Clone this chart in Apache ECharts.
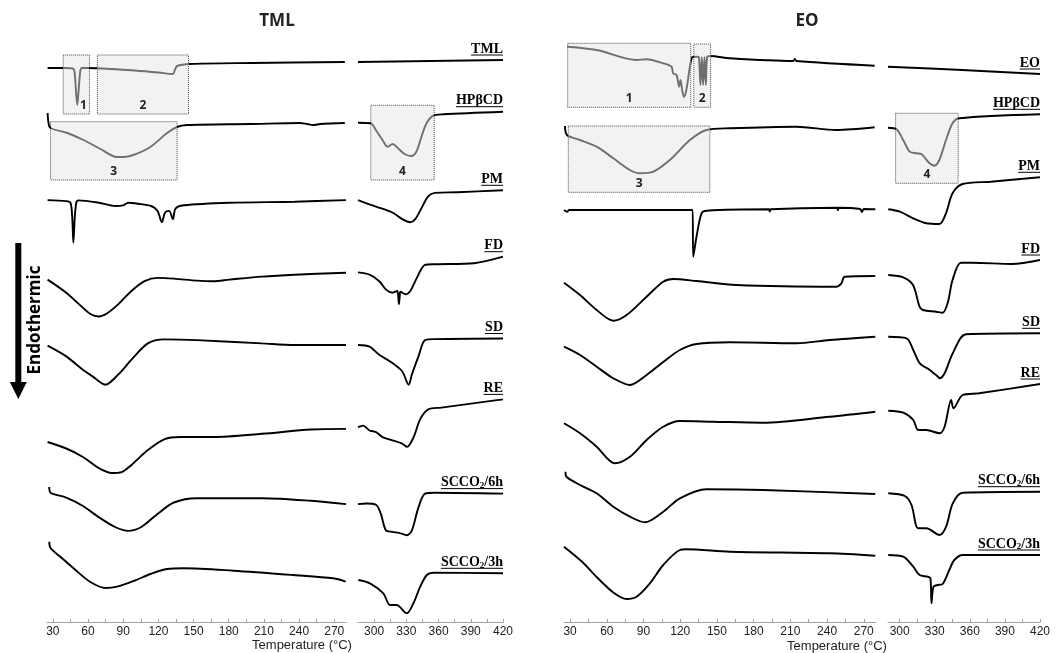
<!DOCTYPE html>
<html><head><meta charset="utf-8">
<script src="https://cdn.jsdelivr.net/npm/echarts@6/dist/echarts.min.js"></script>
<style>html,body{margin:0;padding:0;background:#fff}#c{width:1064px;height:653px}</style>
</head><body><div id="c"></div>
<script>
// ---------- tick labels ----------
const TICKS_LOW = [30, 60, 90, 120, 150, 180, 210, 240, 270];
const TICKS_HIGH = [300, 330, 360, 390, 420];
const MINOR_LOW = [30, 45, 60, 75, 90, 105, 120, 135, 150, 165, 180, 195, 210, 225, 240, 255, 270];
const MINOR_HIGH = [300, 315, 330, 345, 360, 375, 390, 405, 420];

// ---------- sample names ----------
const TML_NAMES = ['TML', 'HPβCD', 'PM', 'FD', 'SD', 'RE', 'SCCO2/6h', 'SCCO2/3h'];
const EO_NAMES = ['EO', 'HPβCD', 'PM', 'FD', 'SD', 'RE', 'SCCO2/6h', 'SCCO2/3h'];

// ---------- TML panel: [temperature °C, stacked heat flow (arb. units)] ----------
const L_TML_A = [[25.5,554],[40,554],[47,553.5],[48.5,550],[49.5,535],[50.8,517],[52,532],[53.5,552],[55,554],[60,554],[80,553],[100,551.5],[120,549.5],[132.5,548],[134,552],[136,556],[147,558],[200,559],[279,560]];
const L_TML_B = [[285,560],[420,562]];
const L_HP_A = [[25.5,509],[26.3,499],[28,494],[42.3,489],[56.1,482],[70.6,473],[84.8,465],[90.2,465],[98.7,467],[113.1,475],[127.4,489],[135.9,495],[144.4,497],[198,498],[240.8,499],[246.8,498],[251.9,497],[258,498],[279,499]];
const L_HP_B = [[285,499.3],[296.9,498.7],[301.6,492],[307.8,482],[312.5,475.3],[317.3,478],[322,474],[328.3,468],[334.6,466],[339.3,470.3],[344.1,485.3],[348.8,498.7],[355,506.3],[364.4,507.7],[420,510.3]];
const L_PM_A = [[25.5,421.9],[41.4,420.9],[45,419.3],[46.5,405],[47.5,379.4],[48.7,405],[50,419.3],[51.7,421.6],[69.2,419.3],[83.1,416],[90.1,416.7],[94.3,419.3],[102.6,418.3],[113.8,416],[119.3,411.1],[122.9,399.7],[125.7,409.5],[129.1,411.1],[132.4,402.9],[134.6,413.4],[141.6,416.7],[180.6,419.3],[236.2,420.3],[280,421.9]];
const L_PM_B = [[285,421.9],[291.1,419.3],[301.7,415.4],[317,409.5],[326.1,402.9],[333.7,399.7],[338.3,402.9],[344.4,414.4],[350.5,425.8],[356.6,429.1],[377.9,429.8],[420,431.7]];
const L_FD_A = [[25.5,342.4],[41.4,329.3],[55.3,314.6],[62,308],[69,305.5],[76,308.5],[85.9,317.9],[97,331],[108.2,340.8],[119.3,344.1],[133.2,343.4],[152.7,341.4],[166.7,340.8],[180.6,342.4],[208.4,345.4],[236.2,347.3],[280,349.3]];
const L_FD_B = [[285,349.6],[295.7,347.3],[304.8,340.8],[310.9,332.6],[317,329.3],[321.5,331],[322.5,325],[323.1,317.9],[323.8,325],[324.6,330.3],[329.2,327.7],[333.7,331],[339.8,344.1],[347.4,357.1],[356.6,357.8],[393.1,358.8],[420,365.3]];
const L_SD_A = [[25.5,276.3],[41.4,265.6],[55.3,252.5],[63.6,245.9],[74.8,237.3],[85.9,247.6],[97,262.3],[111,278.6],[124.9,282.6],[152.7,281.9],[208.4,278.6],[236.2,277],[280,277]];
const L_SD_B = [[285,277],[295.7,275.4],[304.8,267.2],[317,259],[326.1,250.8],[332.2,237.3],[335.2,247.6],[341.3,265.6],[347.4,281.9],[356.6,282.9],[420,283.5]];
const L_RE_A = [[25.5,180],[41.4,173.5],[55.3,165.3],[69.2,153.9],[80.3,149],[88.7,149.9],[97,157.1],[111,171.9],[124.9,182.7],[138.8,185],[166.7,185],[208.4,188.2],[250.2,192.5],[280,193.1]];
const L_RE_B = [[285,194.8],[289.6,196.4],[295.7,191.5],[301.7,189.9],[307.8,184.9],[317,181.7],[326.1,178.4],[330.7,175.1],[336.8,184.9],[342.9,202.9],[350.5,212.7],[362.6,214.4],[414.4,221.9],[420,222.6]];
const L_S6_A = [[26.9,134.9],[28,129.3],[41.4,124.4],[55.3,116.3],[69.2,104.8],[83.1,95],[94.3,91.1],[105.4,95],[119.3,108.1],[133.2,119.5],[152.7,123.8],[208.4,123.8],[250.2,121.2],[280,117.9]];
const L_S6_B = [[285,117.9],[292.6,118.5],[301.7,117.2],[306.3,108.1],[310.9,91.7],[317,90.1],[323.1,89.1],[330.7,86.8],[335.2,91.7],[341.3,114.6],[347.4,128.4],[356.6,129.3],[420,128.4]];
const L_S3_A = [[26.9,80.3],[28,74],[36.6,65],[49.3,52],[62,40],[74.9,34],[84.8,35.3],[99,41],[113.2,48],[127.4,53],[141.5,53.7],[184,51.3],[235.1,47],[269.2,43.7],[279.7,40.3]];
const L_S3_B = [[285.3,42],[296.1,38.7],[308.6,28.7],[314.8,17],[321,17],[330.4,8.7],[336.6,18.7],[342.9,35.3],[349.1,47],[355.3,49.3],[420,48.7]];

// ---------- EO panel ----------
const R_EO_A = [[28,575.3],[51.7,572],[84.3,562],[92.5,562.7],[106.1,558.7],[112.9,555.3],[114.2,548.7],[117,547],[119.1,535.3],[120.2,542],[121.8,530.3],[123.1,525.3],[125,532],[127.9,555.3],[129.8,564.7],[133.3,565.3],[135.1,565],[136.5,537],[137.6,565],[138.7,537],[139.8,565],[140.9,537],[142,565],[144.7,566],[160.5,563.7],[212.2,561],[213.6,563],[215,561],[278.9,556.3]];
const R_EO_B = [[290,555.3],[353.5,552],[420,548]];
const R_HP_A = [[25.8,496],[27.4,487],[38,482],[51.7,475.3],[65.3,463.7],[78.9,452],[87,448.7],[97.9,450.3],[111.5,462],[127.9,482],[141.5,492],[160.5,493.7],[214.9,495.3],[247.5,492],[278.9,494.7]];
const R_HP_B = [[290,494.3],[297.3,492.7],[303,482],[308.6,470.3],[314.3,468.7],[318.5,468],[325.5,458.7],[329.7,456.3],[333.9,462],[339.6,482],[345.2,498.7],[350.9,503.7],[420,507.7]];
const R_PM_A = [[25,412],[27.7,410.3],[29.1,412],[78.9,412],[130.1,412],[130.6,365.3],[133.3,385.3],[137.4,408.7],[141.5,411.3],[192.5,412.7],[193.2,410.5],[194,412.7],[248.2,414.3],[248.9,412],[249.6,414.3],[267,413],[268.5,410],[270,413],[279.4,412.7]];
const R_PM_B = [[290.2,412.7],[300,410.3],[311.4,403.7],[322.7,398.7],[334,398],[339.6,408.7],[345.2,428.7],[353.7,438],[378,440.3],[420,444.7]];
const R_FD_A = [[25,339.3],[38.1,327],[51.7,312],[65.3,301.3],[76.2,307],[92.5,325.3],[106.1,340.3],[114.3,343],[133.3,341],[166,337],[247.6,335.3],[251.7,338.7],[254.4,345.3],[279.4,346]];
const R_FD_B = [[290.2,347],[303,344.7],[311.4,337],[317,315.3],[319.8,312],[331.1,310.3],[336.7,309.3],[341,318.7],[345.2,342],[352.3,359.3],[362.2,359.3],[396,358],[420,362]];
const R_SD_A = [[25,275.3],[38.1,267],[51.7,255.3],[65.3,243.7],[78.9,237],[92.5,247],[106.1,260],[119.7,272],[133.3,278],[160.5,279.7],[214.9,278.7],[242.1,282],[279.4,285.3]];
const R_SD_B = [[290.2,285.3],[305.9,283.7],[311.6,272],[317.2,258.7],[325.7,252],[332.8,245.3],[334.2,243.7],[338.4,248.7],[345.4,268.7],[356.7,287.7],[420,288.7]];
const R_RE_A = [[25,198.7],[38.1,188.7],[51.7,175.3],[66.6,158.7],[78.9,165.3],[92.5,182],[106.1,195.3],[119.7,201],[146.9,200.3],[187.7,199.3],[242.1,205.3],[279.4,210.3]];
const R_RE_B = [[290.2,211.3],[303,209.3],[311.6,202],[315.8,192],[322.8,192],[334.1,188.7],[338.4,195.3],[344,222],[346,213.7],[353.9,227],[368,228.7],[420,238]];
const R_S6_A = [[26.2,150.3],[27,145.3],[38.1,137],[51.7,128.7],[65.3,115.3],[78.9,105.3],[91.1,99.7],[106.1,110.3],[119.7,123.7],[141.5,132.7],[187.7,132],[279.4,128]];
const R_S6_B = [[290.2,128.7],[304.4,126],[310.1,117],[315.8,93.7],[322.8,93.7],[334.1,87],[339.7,95.3],[345.4,118.7],[353.9,129.3],[420,130.3]];
const R_S3_A = [[25,75.3],[40,60],[51.7,45],[65.3,29.5],[76.2,23],[84.3,25.3],[95.2,38.7],[106.1,57],[119.7,72],[125,72.7],[160.5,70.3],[242.1,68.7],[279.4,66.3]];
const R_S3_B = [[290.2,67],[303,65.3],[311.6,55.3],[317,47],[324,45.3],[326.3,43.7],[327.2,18.7],[328.9,35.3],[332.6,37],[336.8,38],[342.4,52],[346.7,62],[353.9,67],[420,67]];

// ---------- highlighted regions: [label, [T1,T2], [v1,v2]] ----------
const BOX_TML = [['1', [38.8, 61.2], [508, 567]], ['2', [68, 145.7], [508, 567]]];
const BOX_L_HP_A = [['3', [28, 135.9], [442, 500.3]]];
const BOX_L_HP_B = [['4', [296.9, 355.9], [442, 516.7]]];
const BOX_EO = [['1', [28, 128.6], [514.7, 578.7]], ['2', [131.1, 144.8], [514.7, 578]]];
const BOX_R_HP_A = [['3', [28.5, 144.2], [429.7, 496]]];
const BOX_R_HP_B = [['4', [296.5, 350], [438.7, 508.7]]];

const LEFT_A = [L_TML_A, L_HP_A, L_PM_A, L_FD_A, L_SD_A, L_RE_A, L_S6_A, L_S3_A];
const LEFT_B = [L_TML_B, L_HP_B, L_PM_B, L_FD_B, L_SD_B, L_RE_B, L_S6_B, L_S3_B];
const RIGHT_A = [R_EO_A, R_HP_A, R_PM_A, R_FD_A, R_SD_A, R_RE_A, R_S6_A, R_S3_A];
const RIGHT_B = [R_EO_B, R_HP_B, R_PM_B, R_FD_B, R_SD_B, R_RE_B, R_S6_B, R_S3_B];

// ---------- chart ----------
const chart = echarts.init(document.getElementById('c'), null, { renderer: 'canvas' });
const GRAY = '#6f6f6f';
const grids = [
  { left: 47, width: 299, top: 41, bottom: 31 },
  { left: 358, width: 145, top: 41, bottom: 31 },
  { left: 564, width: 312, top: 41, bottom: 31 },
  { left: 888, width: 152, top: 41, bottom: 31 }
];
function xAx(g, min, max, labels, ticks) {
  return {
    type: 'value', gridIndex: g, min: min, max: max, splitLine: { show: false },
    axisLine: { show: true, onZero: false, lineStyle: { color: '#a3a3a3', width: 1 } },
    axisTick: { show: true, inside: true, length: 3, customValues: ticks, lineStyle: { color: '#a3a3a3' } },
    axisLabel: { customValues: labels, color: '#222', fontSize: 12, fontFamily: 'Liberation Sans, Arial, sans-serif', margin: 4 }
  };
}
const xAxes = [
  xAx(0, 25, 280, TICKS_LOW, MINOR_LOW),
  xAx(1, 285, 420, TICKS_HIGH, MINOR_HIGH),
  xAx(2, 25, 280, TICKS_LOW, MINOR_LOW),
  xAx(3, 290, 420, TICKS_HIGH, MINOR_HIGH)
];
const yAxes = [0, 1, 2, 3].map(g => ({ type: 'value', gridIndex: g, min: 0, max: 581, show: false }));

const series = [];
const visualMaps = [];
function boxArea(boxes, pos) {
  return {
    silent: true,
    itemStyle: { color: '#f2f2f2', borderColor: '#4a4a4a', borderWidth: 1, borderType: 'dotted' },
    label: { show: true, position: 'insideBottom', distance: 3, color: '#222', fontSize: 12, fontWeight: 'bold', fontFamily: 'Open Sans, sans-serif' },
    data: boxes.map((b, i) => [
      { coord: [b[1][0], b[2][1]], name: b[0], label: (pos && pos[i]) ? { position: pos[i] } : undefined },
      { coord: [b[1][1], b[2][0]] }
    ])
  };
}
function addSeries(data, g, name, boxes, pos) {
  const s = {
    type: 'line', name: name, xAxisIndex: g, yAxisIndex: g, data: data,
    showSymbol: false, smooth: 0.3, silent: true, z: 3,
    lineStyle: { width: 1.9 }
  };
  if (boxes) {
    s.markArea = boxArea(boxes, pos);
    visualMaps.push({
      type: 'piecewise', show: false, dimension: 0, seriesIndex: series.length,
      pieces: boxes.map(b => ({ gte: b[1][0], lte: b[1][1], color: GRAY })),
      outOfRange: { color: '#000' }
    });
  } else {
    s.lineStyle.color = '#000';
    s.itemStyle = { color: '#000' };
  }
  series.push(s);
}
LEFT_A.forEach((d, i) => addSeries(d, 0, TML_NAMES[i],
  i === 0 ? BOX_TML : (i === 1 ? BOX_L_HP_A : null), i === 0 ? ['insideBottomRight', null] : null));
LEFT_B.forEach((d, i) => addSeries(d, 1, TML_NAMES[i], i === 1 ? BOX_L_HP_B : null));
RIGHT_A.forEach((d, i) => addSeries(d, 2, EO_NAMES[i],
  i === 0 ? BOX_EO : (i === 1 ? BOX_R_HP_A : null)));
RIGHT_B.forEach((d, i) => addSeries(d, 3, EO_NAMES[i], i === 1 ? BOX_R_HP_B : null));

chart.setOption({
  animation: false,
  backgroundColor: '#fff',
  color: ['#000'],
  grid: grids, xAxis: xAxes, yAxis: yAxes,
  visualMap: visualMaps,
  series: series
});

// ---------- annotations ----------
const LABEL_FONT = 'bold 14px "Liberation Serif", "Times New Roman", serif';
const SUB_FONT = 'bold 9px "Liberation Serif", "Times New Roman", serif';
const ctx = document.createElement('canvas').getContext('2d');
function measure(font, t) { ctx.font = font; return ctx.measureText(t).width; }

const graphics = [
  { type: 'text', style: { text: 'TML', x: 277, y: 21, align: 'center', verticalAlign: 'middle', font: 'bold 17px "Open Sans", sans-serif', fill: '#222' } },
  { type: 'text', style: { text: 'EO', x: 807, y: 21, align: 'center', verticalAlign: 'middle', font: 'bold 17px "Open Sans", sans-serif', fill: '#222' } },
  { type: 'text', style: { text: 'Temperature (°C)', x: 302, y: 645, align: 'center', verticalAlign: 'middle', font: '13px "Liberation Sans", Arial, sans-serif', fill: '#222' } },
  { type: 'text', style: { text: 'Temperature (°C)', x: 837, y: 646, align: 'center', verticalAlign: 'middle', font: '13px "Liberation Sans", Arial, sans-serif', fill: '#222' } },
  { type: 'rect', shape: { x: 15.3, y: 243, width: 6, height: 141 }, style: { fill: '#000' } },
  { type: 'polygon', shape: { points: [[9.8, 382], [26.8, 382], [18.3, 399]] }, style: { fill: '#000' } },
  { type: 'text', x: 35, y: 320, rotation: Math.PI / 2, style: { text: 'Endothermic', x: 0, y: 0, align: 'center', verticalAlign: 'middle', font: 'bold 17px "Open Sans", sans-serif', fill: '#000' } }
];

function addCurveLabel(name, g, lastPt) {
  const p = chart.convertToPixel({ gridIndex: g }, lastPt);
  const xr = grids[g].left + grids[g].width;
  let rich, w;
  const m = name.match(/^SCCO2(.*)$/);
  if (m) {
    rich = '{a|SCCO}{s|2}{a|' + m[1] + '}';
    w = measure(LABEL_FONT, 'SCCO') + measure(SUB_FONT, '2') + measure(LABEL_FONT, m[1]);
  } else {
    rich = '{a|' + name + '}';
    w = measure(LABEL_FONT, name);
  }
  const yU = p[1] - 5;
  graphics.push({
    type: 'text', z: 10,
    style: {
      text: rich, x: xr, y: yU + 1.5, align: 'right', verticalAlign: 'bottom',
      rich: {
        a: { fontFamily: '"Liberation Serif", "Times New Roman", serif', fontWeight: 'bold', fontSize: 14, lineHeight: 15, fill: '#000' },
        s: { fontFamily: '"Liberation Serif", "Times New Roman", serif', fontWeight: 'bold', fontSize: 9, lineHeight: 5, verticalAlign: 'bottom', fill: '#000' }
      }
    }
  });
  graphics.push({ type: 'line', z: 10, shape: { x1: xr - w, y1: yU, x2: xr, y2: yU }, style: { stroke: '#000', lineWidth: 1 } });
}
LEFT_B.forEach((d, i) => addCurveLabel(TML_NAMES[i], 1, d[d.length - 1]));
RIGHT_B.forEach((d, i) => addCurveLabel(EO_NAMES[i], 3, d[d.length - 1]));

chart.setOption({ graphic: graphics });
</script></body></html>
